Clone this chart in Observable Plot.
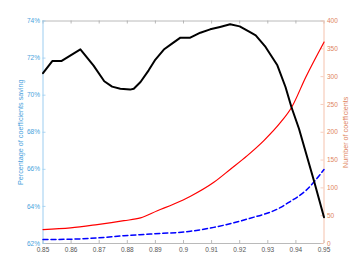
<!DOCTYPE html>
<html>
<head>
<meta charset="utf-8">
<script src="https://cdn.jsdelivr.net/npm/d3@7"></script>
<script src="https://cdn.jsdelivr.net/npm/@observablehq/plot@0.6"></script>
<style>
html, body { margin: 0; padding: 0; background: #fff; }
#chart svg { display: block; font-family: "Liberation Sans", Arial, sans-serif; }
</style>
</head>
<body>
<div id="chart"></div>
<script>
// Percentage of coefficients saving (left axis, %)
const savingX = [0.850, 0.8533, 0.8565, 0.8633, 0.868, 0.8718, 0.8746, 0.8775, 0.881, 0.8823, 0.8847, 0.8876, 0.890, 0.893, 0.8959, 0.8989, 0.9024, 0.906, 0.9095, 0.913, 0.9166, 0.920, 0.924, 0.9257, 0.9292, 0.9334, 0.9363, 0.9384, 0.9411, 0.9464, 0.950];
const savingPct = [71.19, 71.84, 71.84, 72.47, 71.59, 70.75, 70.46, 70.35, 70.30, 70.35, 70.71, 71.34, 71.92, 72.46, 72.78, 73.10, 73.10, 73.37, 73.55, 73.68, 73.82, 73.71, 73.37, 73.23, 72.60, 71.61, 70.44, 69.36, 68.19, 65.40, 63.42];

// Number of coefficients (right axis) – red solid
const redX = [0.850, 0.8598, 0.8693, 0.8788, 0.8847, 0.8907, 0.8966, 0.9025, 0.9108, 0.9168, 0.9227, 0.9286, 0.9346, 0.9385, 0.9435, 0.950];
const redCount = [25, 28, 34, 41, 46, 59, 71, 85, 110, 134, 158, 185, 218, 245, 299, 362];

// Number of coefficients (right axis) – blue dashed
const blueX = [0.850, 0.8598, 0.8693, 0.8788, 0.8882, 0.9025, 0.9108, 0.9227, 0.9346, 0.9375, 0.9435, 0.950];
const blueCount = [7, 7.7, 10, 14, 17, 22, 29, 44, 65, 74, 95, 133];

const xTicks = [0.85, 0.86, 0.87, 0.88, 0.89, 0.9, 0.91, 0.92, 0.93, 0.94, 0.95];
const pctTicks = [62, 64, 66, 68, 70, 72, 74];
const countTicks = [0, 50, 100, 150, 200, 250, 300, 350, 400];

const leftLabel = "Percentage of coefficients saving";
const rightLabel = "Number of coefficients";

const pctDomain = [62, 74];
const countDomain = [0, 400];
const toPct = c => pctDomain[0] + (c - countDomain[0]) * (pctDomain[1] - pctDomain[0]) / (countDomain[1] - countDomain[0]);
const fromPct = p => countDomain[0] + (p - pctDomain[0]) * (countDomain[1] - countDomain[0]) / (pctDomain[1] - pctDomain[0]);

const leftColor = "#4a9fdc";
const leftLine = "#9ccdf0";
const rightColor = "#e0845e";
const rightLine = "#f5c2ad";
const gray = "#a8a8a8";

const saving = savingX.map((x, i) => ({x, y: savingPct[i]}));
const red = redX.map((x, i) => ({x, y: toPct(redCount[i])}));
const blue = blueX.map((x, i) => ({x, y: toPct(blueCount[i])}));

const W = 359, H = 273;
const mL = 42.5, mR = 35.5, mT = 20.5, mB = 30;
const tickLenX = 3 * (0.1 / (W - mL - mR));
const tickLenY = 3 * (12 / (H - mT - mB));

const chart = Plot.plot({
  width: W,
  height: H,
  marginLeft: mL,
  marginRight: mR,
  marginTop: mT,
  marginBottom: mB,
  style: {fontFamily: "Liberation Sans, Arial, sans-serif", background: "#fff"},
  x: {domain: [0.85, 0.95]},
  y: {domain: pctDomain},
  marks: [
    Plot.ruleY([pctDomain[1]], {stroke: gray, strokeWidth: 0.8}),
    Plot.ruleY([pctDomain[0]], {stroke: gray, strokeWidth: 0.8}),
    Plot.ruleX(xTicks, {x: d => d, y1: pctDomain[0], y2: pctDomain[0] + tickLenY, stroke: gray, strokeWidth: 0.8}),
    Plot.ruleX(xTicks, {x: d => d, y1: pctDomain[1], y2: pctDomain[1] - tickLenY, stroke: gray, strokeWidth: 0.8}),
    Plot.ruleX([0.85], {stroke: leftLine, strokeWidth: 1}),
    Plot.ruleX([0.95], {stroke: rightLine, strokeWidth: 1}),
    Plot.ruleY(pctTicks, {y: d => d, x1: 0.85, x2: 0.85 + tickLenX, stroke: leftLine, strokeWidth: 0.8}),
    Plot.ruleY(countTicks.map(toPct), {y: d => d, x1: 0.95, x2: 0.95 - tickLenX, stroke: rightLine, strokeWidth: 0.8}),
    Plot.axisX({ticks: xTicks, tickSize: 0, tickPadding: 4, tickFormat: d => String(d), fontSize: 6.5, color: "#555", label: null}),
    Plot.axisY({anchor: "left", ticks: pctTicks, tickSize: 0, tickPadding: 3, tickFormat: d => d + "%", fontSize: 6.5, color: leftColor, label: null}),
    Plot.axisY({anchor: "right", ticks: countTicks.map(toPct), tickSize: 0, tickPadding: 3, tickFormat: d => String(Math.round(fromPct(d))), fontSize: 6.5, color: rightColor, label: null}),
    Plot.text([leftLabel], {text: d => d, frameAnchor: "left", textAnchor: "middle", rotate: -90, dx: -22, fontSize: 7.2, fill: leftColor}),
    Plot.text([rightLabel], {text: d => d, frameAnchor: "right", textAnchor: "middle", rotate: -90, dx: 21.5, fontSize: 7.2, fill: rightColor}),
    Plot.line(red, {x: "x", y: "y", stroke: "#ff0000", strokeWidth: 1.2, curve: "monotone-x"}),
    Plot.line(blue, {x: "x", y: "y", stroke: "#0000ff", strokeWidth: 1.5, strokeDasharray: "5,3", curve: "monotone-x"}),
    Plot.line(saving, {x: "x", y: "y", stroke: "#000", strokeWidth: 2, strokeLinejoin: "round"})
  ]
});
document.getElementById("chart").appendChild(chart);
</script>
</body>
</html>
